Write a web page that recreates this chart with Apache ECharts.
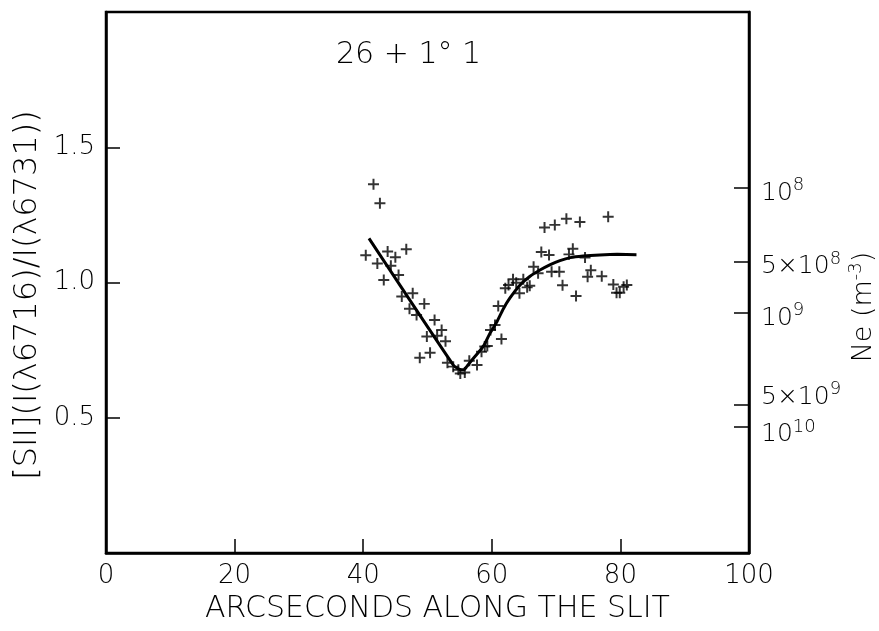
<!DOCTYPE html>
<html>
<head>
<meta charset="utf-8">
<script src="https://cdn.jsdelivr.net/npm/echarts@6/dist/echarts.min.js"></script>
<style>
  html, body { margin: 0; padding: 0; background: #fff; }
  #chart { width: 879px; height: 631px; }
</style>
</head>
<body>
<div id="chart"></div>
<script>
// Observed [SII] 6716/6731 line ratio along the slit
const obsX = [41.6, 42.6, 40.4, 43.8, 45.0, 46.7, 42.2, 44.3, 43.2, 45.5,
              46.0, 47.7, 47.2, 49.5, 48.3, 51.1, 52.2, 49.9, 51.5, 52.8,
              48.8, 50.4, 53.1, 54.0, 54.8, 55.1, 55.8, 56.5, 57.7, 58.4,
              58.9, 59.3, 59.8, 60.5, 61.5, 61.0, 62.1, 62.6, 63.3, 63.8,
              64.3, 64.9, 65.5, 65.9, 66.5, 67.2, 67.7, 68.2, 68.9, 69.3,
              69.8, 70.5, 71.0, 71.6, 72.0, 72.6, 73.1, 73.7, 74.5, 74.9,
              75.4, 77.1, 78.1, 78.9, 79.4, 79.9, 80.5, 81.0];
const obsY = [1.363, 1.293, 1.101, 1.115, 1.093, 1.123, 1.070, 1.062, 1.009, 1.028,
              0.948, 0.960, 0.903, 0.921, 0.880, 0.861, 0.824, 0.800, 0.803, 0.783,
              0.722, 0.740, 0.703, 0.689, 0.677, 0.664, 0.667, 0.711, 0.695, 0.744,
              0.763, 0.765, 0.824, 0.843, 0.791, 0.913, 0.979, 0.991, 1.012, 0.999,
              0.960, 1.012, 0.982, 0.988, 1.058, 1.034, 1.113, 1.203, 1.102, 1.040,
              1.213, 1.040, 0.990, 1.236, 1.104, 1.125, 0.950, 1.224, 1.092, 1.021,
              1.045, 1.023, 1.243, 0.993, 0.962, 0.962, 0.984, 0.991];

// Fitted model curve
const fitX = [40.9, 54.0, 54.8, 55.6, 56.1, 56.7, 58.7, 59.7, 60.8, 61.8,
              62.8, 64.4, 65.9, 67.5, 69.1, 70.6, 72.2, 74.2, 76.8, 79.5, 82.5];
const fitY = [1.163, 0.695, 0.681, 0.677, 0.689, 0.707, 0.765, 0.812, 0.855, 0.903,
              0.942, 0.991, 1.022, 1.046, 1.066, 1.081, 1.092, 1.098, 1.102, 1.104, 1.103];

// Electron density scale (right axis): ratio position and label pieces
const neTickValues = [0.466, 0.547, 0.887, 1.076, 1.349];
const neTickBase   = ['10', '5×10', '10', '5×10', '10'];
const neTickExp    = ['10', '9', '9', '8', '8'];

const xTicks = { min: 0, max: 100, interval: 20 };
const ratioTicks = { min: 0, max: 2, interval: 0.5 };

const FONT = 'DejaVu Sans';
const W = 200;
const ink = '#000';

const obsData = obsX.map((x, i) => [x, obsY[i]]);
const fitData = fitX.map((x, i) => [x, fitY[i]]);

function neLabel(v) {
  let k = 0, best = Infinity;
  neTickValues.forEach((t, i) => { const d = Math.abs(t - v); if (d < best) { best = d; k = i; } });
  return '{b|' + neTickBase[k] + '}{s|' + neTickExp[k] + '}';
}

// Right-hand density axis; the two crowded high-density ticks get their own
// axes so their labels can be nudged apart
function neAxis(values, withLine, labelPadding) {
  return {
    type: 'value',
    position: 'right',
    offset: 0,
    min: ratioTicks.min, max: ratioTicks.max,
    axisLine: { show: withLine, onZero: false, lineStyle: { color: ink, width: 2.5 } },
    axisTick: {
      show: true, inside: true, length: 15, customValues: values,
      lineStyle: { color: ink, width: 1.5 }
    },
    axisLabel: {
      customValues: values,
      hideOverlap: false,
      margin: 12,
      padding: labelPadding,
      formatter: neLabel,
      rich: {
        b: { fontFamily: FONT, fontWeight: W, fontSize: 25, color: ink },
        s: { fontFamily: FONT, fontWeight: W, fontSize: 18, color: ink, padding: [0, 0, 16, 0] }
      }
    },
    splitLine: { show: false }
  };
}

const chart = echarts.init(document.getElementById('chart'), null, { renderer: 'canvas' });

chart.setOption({
  backgroundColor: '#fff',
  animation: false,
  grid: {
    left: 106, right: 130, top: 12, bottom: 78,
    outerBoundsMode: 'none',
    containLabel: false,
    show: true, borderColor: ink, borderWidth: 2.5, backgroundColor: 'transparent'
  },
  graphic: [{
    type: 'text',
    left: 336, top: 40,
    style: { text: '26 + 1° 1', font: W + ' 30px "DejaVu Sans"', fill: ink }
  }, {
    // left axis title
    type: 'text',
    x: 28, y: 295,
    rotation: Math.PI / 2,
    style: {
      text: '[SII](I(λ6716)/I(λ6731))',
      font: W + ' 32px "DejaVu Sans"', fill: ink,
      align: 'center', verticalAlign: 'middle'
    }
  }, {
    // right axis title
    type: 'text',
    x: 864, y: 307,
    rotation: Math.PI / 2,
    style: {
      text: '{n|Ne (m}{s|-3}{n|)}',
      align: 'center', verticalAlign: 'middle',
      rich: {
        n: { fontFamily: FONT, fontWeight: W, fontSize: 27, fill: ink },
        s: { fontFamily: FONT, fontWeight: W, fontSize: 18, fill: ink, padding: [0, 0, 16, 0] }
      }
    }
  }],
  xAxis: {
    type: 'value',
    min: xTicks.min, max: xTicks.max, interval: xTicks.interval,
    name: 'ARCSECONDS ALONG THE SLIT',
    nameLocation: 'middle',
    nameGap: 41,
    nameTextStyle: { fontFamily: FONT, fontWeight: W, fontSize: 30, color: ink, padding: [0, 0, 0, 20] },
    axisLine: { show: true, onZero: false, lineStyle: { color: ink, width: 2.5 } },
    axisTick: { show: true, inside: true, length: 14, lineStyle: { color: ink, width: 1.5 } },
    axisLabel: { fontFamily: FONT, fontWeight: W, fontSize: 26, color: ink, margin: 10 },
    splitLine: { show: false }
  },
  yAxis: [{
    type: 'value',
    position: 'left',
    min: ratioTicks.min, max: ratioTicks.max, interval: ratioTicks.interval,
    axisLine: { show: true, onZero: false, lineStyle: { color: ink, width: 2.5 } },
    axisTick: { show: true, inside: true, length: 14, lineStyle: { color: ink, width: 1.5 } },
    axisLabel: {
      fontFamily: FONT, fontWeight: W, fontSize: 26, color: ink, margin: 11,
      showMinLabel: false, showMaxLabel: false,
      formatter: v => v.toFixed(1)
    },
    splitLine: { show: false }
  },
    neAxis(neTickValues.slice(2), true, [10, 0, 0, 0]),
    neAxis(neTickValues.slice(1, 2), false, [0, 0, 16, 0]),
    neAxis(neTickValues.slice(0, 1), false, [16, 0, 0, 0])
  ],
  series: [{
    name: 'observed',
    type: 'scatter',
    yAxisIndex: 0,
    data: obsData,
    symbol: 'path://M4.1,0H5.9V4.1H10V5.9H5.9V10H4.1V5.9H0V4.1H4.1Z',
    symbolSize: 11,
    itemStyle: { color: ink },
    z: 3
  }, {
    name: 'model',
    type: 'line',
    yAxisIndex: 0,
    data: fitData,
    smooth: 0.2,
    showSymbol: false,
    lineStyle: { color: ink, width: 3 },
    z: 2
  }]
});
</script>
</body>
</html>
